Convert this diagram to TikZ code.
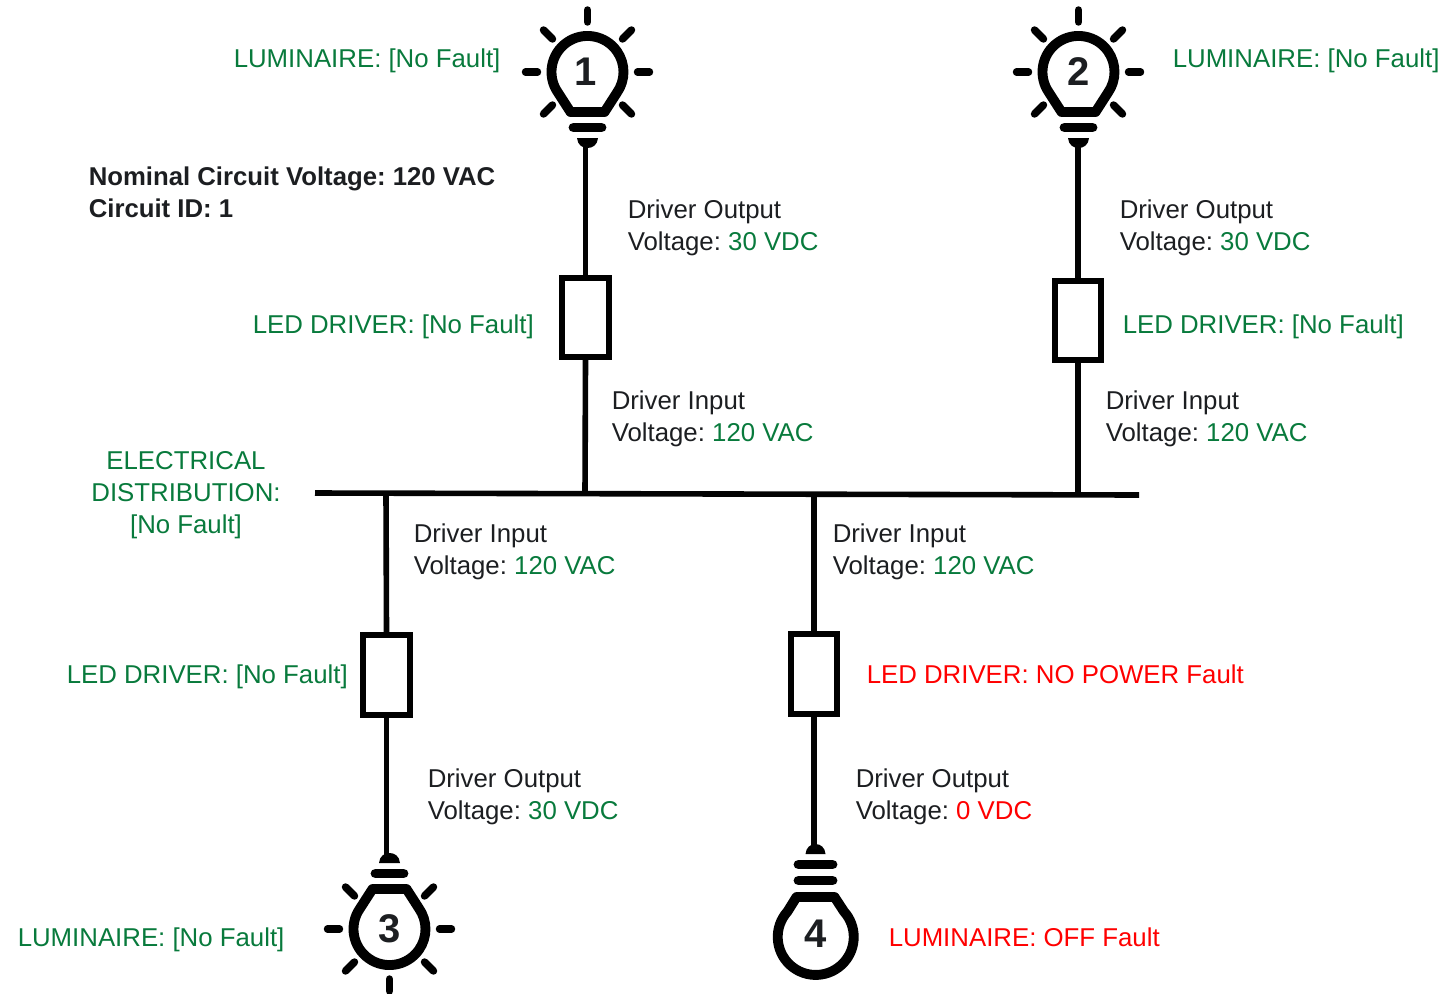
\documentclass[tikz,border=0pt]{standalone}
\usepackage{fontspec}
\setmainfont{Liberation Sans}
\frenchspacing
\definecolor{okgreen}{RGB}{8,122,60}
\definecolor{faultred}{RGB}{255,0,0}
\definecolor{ink}{RGB}{28,30,33}
\newcommand{\ok}[1]{\textcolor{okgreen}{#1}}
\newcommand{\bad}[1]{\textcolor{faultred}{#1}}
\tikzset{
  wire/.style={line width=4.2pt,draw=black!90!ink},
  ledbox/.style={draw=black,line width=4.3pt,fill=white,minimum width=35pt,minimum height=59.5pt,inner sep=0pt},
  lbl/.style={anchor=base west,inner sep=0pt,text=ink,font=\fontsize{19.35pt}{24pt}\selectfont},
  lblc/.style={lbl,anchor=base,align=center},
  lbll/.style={lbl,align=left},
  bulbline/.style={line width=7.4pt,line join=round,draw=black},
  ray/.style={line width=5.6pt,line cap=round,draw=black},
  numtxt/.style={inner sep=0pt,text=ink,font=\fontsize{30pt}{30pt}\selectfont\bfseries},
  pics/litbulb/.style n args={2}{code={
    \draw[bulbline] (-29.5,20.6) arc[start angle=145,end angle=395,radius=36] -- (17,40) -- (-17,40) -- cycle;
    \draw[bulbline,line cap=round] (-14,55.5) -- (14,55.5);
    \fill[black] (-10.5,66) -- (10.5,66) .. controls (10,73) and (5,76) .. (0,76) .. controls (-5,76) and (-10,73) .. (-10.5,66) -- cycle;
    \draw[ray] (0,-62) -- (0,-50);
    \draw[ray] (-62,0) -- (-50,0);
    \draw[ray] (62,0) -- (50,0);
    \draw[ray] (-44,-42) -- (-35,-33);
    \draw[ray] (44,-42) -- (35,-33);
    \draw[ray] (-44,42) -- (-35,33);
    \draw[ray] (44,42) -- (35,33);
    \coordinate (-base) at (0,72);
    \node[numtxt] (-num) at (#2,0) {#1};
  }},
  pics/darkbulb/.style n args={1}{code={
    \draw[bulbline] (-28,25) arc[start angle=138,end angle=402,radius=38] -- (19,39.5) -- (-19,39.5) -- cycle;
    \draw[bulbline,line cap=round] (-17,56) -- (17,56);
    \draw[bulbline,line cap=round] (-17,72) -- (17,72);
    \fill[black] (-10,82.5) -- (10,82.5) .. controls (9.5,89) and (5,92.5) .. (0,92.5) .. controls (-5,92.5) and (-9.5,89) .. (-10,82.5) -- cycle;
    \coordinate (-base) at (0,88);
    \node[numtxt] (-num) at (0,3) {#1};
  }},
}
\begin{document}
\begin{tikzpicture}[x=0.75pt,y=-0.75pt]
\useasboundingbox (0,0) rectangle (1449,993);
% bus
\coordinate (busL) at (315,493);
\coordinate (busR) at (1139,495);
\coordinate (j1) at (585,493.7);
\coordinate (j2) at (1078,495);
\coordinate (j3) at (386,493.2);
\coordinate (j4) at (814,494.3);
% bulbs
\pic (b1) at (587.5,72) {litbulb={1}{-2}};
\pic (b2) at (1078.5,72) {litbulb={2}{0.5}};
\pic[yscale=-1] (b3) at (389.5,929) {litbulb={3}{0}};
\pic[yscale=-1] (b4) at (815.5,936.5) {darkbulb={4}};
% drivers
\node[ledbox] (d1) at (585.5,317.5) {};
\node[ledbox] (d2) at (1078,320.5) {};
\node[ledbox] (d3) at (386.5,675) {};
\node[ledbox] (d4) at (814,674) {};
% connectors
\draw[wire] (busL) -- (busR);
\draw[wire] (d1.north) -- (d1.north |- b1-base);
\draw[wire] (d1.south) -- (j1);
\draw[wire] (d2.north) -- (d2.north |- b2-base);
\draw[wire] (d2.south) -- (j2);
\draw[wire] (j3) -- (d3.north);
\draw[wire] (d3.south) -- (d3.south |- b3-base);
\draw[wire] (j4) -- (d4.north);
\draw[wire] (d4.south) -- (d4.south |- b4-base);
% labels
\node[lbl] (t1) at (233.5,67) {\ok{LUMINAIRE: [No Fault]}};
\node[lbl] (t2) at (1172.5,67) {\ok{LUMINAIRE: [No Fault]}};
\node[lbl] (t3) at (17.5,946) {\ok{LUMINAIRE: [No Fault]}};
\node[lbl] (t4) at (888.5,946) {\bad{LUMINAIRE: OFF Fault}};
\node[lbl] (t5) at (252.5,333) {\ok{LED DRIVER: [No Fault]}};
\node[lbl] (t6) at (1122.5,333) {\ok{LED DRIVER: [No Fault]}};
\node[lbl] (t7) at (66.5,683) {\ok{LED DRIVER: [No Fault]}};
\node[lbl] (t8) at (866.5,683) {\bad{LED DRIVER: NO POWER Fault}};
\node[lbll,font=\fontsize{19.3pt}{24pt}\selectfont\bfseries] (t9) at (88.5,217) {Nominal Circuit Voltage: 120 VAC\\Circuit ID: 1};
\node[lblc] (t10) at (186,533) {\ok{ELECTRICAL}\\\ok{DISTRIBUTION:}\\\ok{[No Fault]}};
\node[lbll] (o1) at (627.5,250) {Driver Output\\Voltage: \ok{30 VDC}};
\node[lbll] (o2) at (1119.5,250) {Driver Output\\Voltage: \ok{30 VDC}};
\node[lbll] (o3) at (427.5,819) {Driver Output\\Voltage: \ok{30 VDC}};
\node[lbll] (o4) at (855.5,819) {Driver Output\\Voltage: \bad{0 VDC}};
\node[lbll] (i1) at (611.5,441) {Driver Input\\Voltage: \ok{120 VAC}};
\node[lbll] (i2) at (1105.5,441) {Driver Input\\Voltage: \ok{120 VAC}};
\node[lbll] (i3) at (413.5,574) {Driver Input\\Voltage: \ok{120 VAC}};
\node[lbll] (i4) at (832.5,574) {Driver Input\\Voltage: \ok{120 VAC}};
\end{tikzpicture}
\end{document}
